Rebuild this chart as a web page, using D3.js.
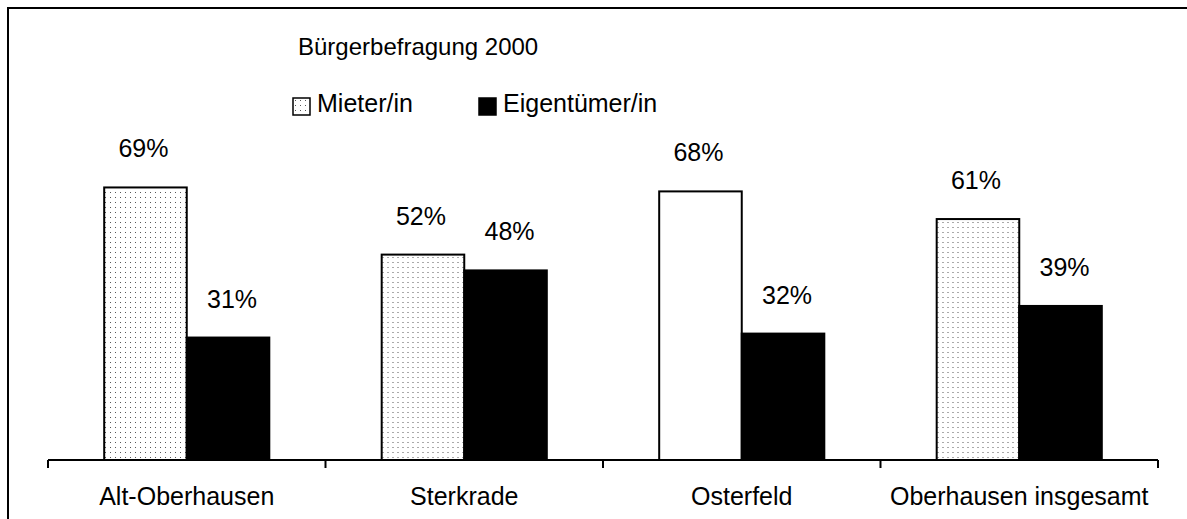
<!DOCTYPE html>
<html>
<head>
<meta charset="utf-8">
<script src="https://cdn.jsdelivr.net/npm/d3@7"></script>
<style>
    body { margin: 0; background: #fff; }
    svg text { font-family: "Liberation Sans", Arial, sans-serif; fill: #000; }
</style>
</head>
<body>
<svg id="chart" width="1187" height="519"></svg>
<script>
// Bürgerbefragung 2000 - Mieter vs. Eigentümer per Stadtbezirk
var categories = ['Alt-Oberhausen', 'Sterkrade', 'Osterfeld', 'Oberhausen insgesamt'];
var seriesNames = ['Mieter/in', 'Eigentümer/in'];
var mieterValues = [69, 52, 68, 61];
var eigentuemerValues = [31, 48, 32, 39];
var title = 'Bürgerbefragung 2000';

var svg = d3.select('#chart');

// dotted fill used by the Mieter bars
var defs = svg.append('defs');
var pat = defs.append('pattern')
    .attr('id', 'dots')
    .attr('patternUnits', 'userSpaceOnUse')
    .attr('width', 5)
    .attr('height', 5);
pat.append('rect').attr('width', 5).attr('height', 5).attr('fill', '#fff');
pat.append('rect').attr('x', 2).attr('y', 2).attr('width', 1).attr('height', 1).attr('fill', '#555');

// outer frame (only top and left edges are visible in the cut-out)
svg.append('path')
    .attr('d', 'M8,519 V8 H1187')
    .attr('fill', 'none')
    .attr('stroke', '#000')
    .attr('stroke-width', 2);

var x0 = d3.scaleBand()
    .domain(categories)
    .range([48, 1158])
    .paddingInner(0)
    .paddingOuter(0);

var groupWidth = x0.bandwidth() * 0.595;
var x1 = d3.scaleBand()
    .domain(seriesNames)
    .range([(x0.bandwidth() - groupWidth) / 2, (x0.bandwidth() + groupWidth) / 2]);

var y = d3.scaleLinear()
    .domain([0, 100])
    .range([460, 65]);

var rows = categories.map(function(c, i) {
    return {
        category: c,
        bars: [
            { series: seriesNames[0], value: mieterValues[i], index: i },
            { series: seriesNames[1], value: eigentuemerValues[i], index: i }
        ]
    };
});

function barFill(d) {
    if (d.series === seriesNames[1]) {
        return '#000';
    }
    // the Osterfeld bar has no dot pattern in the original
    return d.index === 2 ? '#fff' : 'url(#dots)';
}

var groups = svg.selectAll('.group')
    .data(rows)
    .enter().append('g')
    .attr('class', 'group')
    .attr('transform', function(d) { return 'translate(' + x0(d.category) + ',0)'; });

groups.selectAll('rect')
    .data(function(d) { return d.bars; })
    .enter().append('rect')
    .attr('x', function(d) { return x1(d.series); })
    .attr('y', function(d) { return y(d.value); })
    .attr('width', x1.bandwidth())
    .attr('height', function(d) { return y(0) - y(d.value); })
    .attr('fill', barFill)
    .attr('stroke', '#000')
    .attr('stroke-width', 2);

groups.selectAll('.bar-values-label')
    .data(function(d) { return d.bars; })
    .enter().append('text')
    .attr('class', 'bar-values-label')
    .attr('x', function(d) { return x1(d.series) + x1.bandwidth() / 2 + (d.series === seriesNames[1] ? 4 : -2); })
    .attr('y', function(d) { return y(d.value) - 30; })
    .attr('text-anchor', 'middle')
    .style('font-size', '25px')
    .text(function(d) { return d.value + '%'; });

// category axis with ticks between the groups
var xAxis = svg.append('g')
    .attr('transform', 'translate(0,' + y(0) + ')');

xAxis.append('line')
    .attr('x1', x0.range()[0])
    .attr('x2', x0.range()[1])
    .attr('stroke', '#000')
    .attr('stroke-width', 2);

var tickPos = categories.map(function(c) { return x0(c); }).concat([x0.range()[1]]);
xAxis.selectAll('.tick')
    .data(tickPos)
    .enter().append('line')
    .attr('x1', function(d) { return d; })
    .attr('x2', function(d) { return d; })
    .attr('y1', 0)
    .attr('y2', 8)
    .attr('stroke', '#000')
    .attr('stroke-width', 2);

xAxis.selectAll('.cat-label')
    .data(categories)
    .enter().append('text')
    .attr('x', function(d) { return x0(d) + x0.bandwidth() / 2; })
    .attr('y', 45)
    .attr('text-anchor', 'middle')
    .style('font-size', '25px')
    .text(function(d) { return d; });

// title and legend
svg.append('text')
    .attr('x', 298)
    .attr('y', 55)
    .style('font-size', '24px')
    .text(title);

var legendX = [293, 479];
var legend = svg.selectAll('.legend')
    .data(seriesNames)
    .enter().append('g')
    .attr('class', 'legend')
    .attr('transform', function(d, i) { return 'translate(' + legendX[i] + ',98)'; });

legend.append('rect')
    .attr('width', 17)
    .attr('height', 17)
    .attr('fill', function(d, i) { return i === 0 ? 'url(#dots)' : '#000'; })
    .attr('stroke', '#000')
    .attr('stroke-width', 1.5);

legend.append('text')
    .attr('x', 24)
    .attr('y', 14)
    .style('font-size', '25px')
    .text(function(d) { return d; });
</script>
</body>
</html>
